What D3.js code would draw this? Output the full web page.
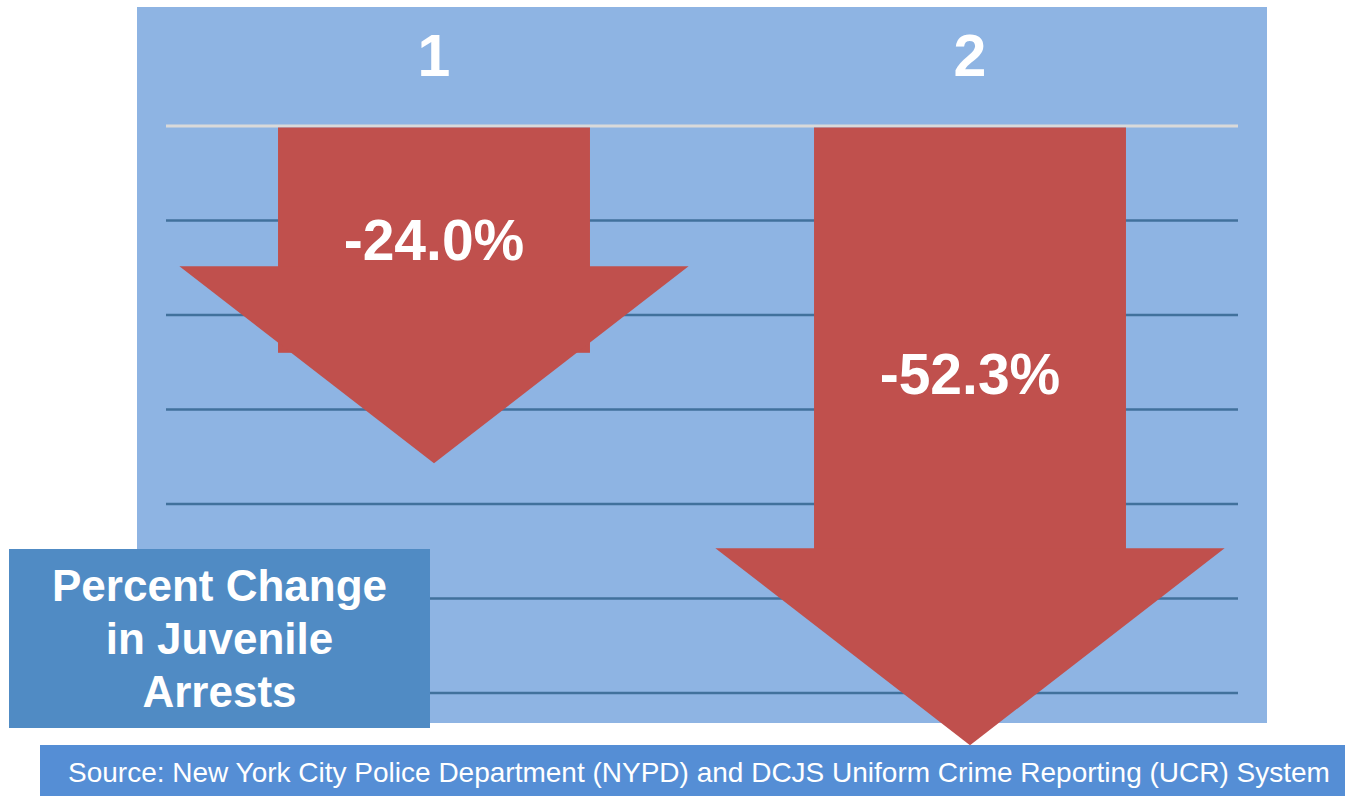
<!DOCTYPE html>
<html>
<head>
<meta charset="utf-8">
<script src="https://cdn.jsdelivr.net/npm/d3@7"></script>
<style>
  html, body { margin: 0; padding: 0; background: #fff; }
  svg { display: block; font-family: "Liberation Sans", Arial, sans-serif; }
</style>
</head>
<body>
<script>
const categories = ["1", "2"];
const values = [-24.0, -52.3];
const gridTicks = [0, -10, -20, -30, -40, -50, -60];
const titleLines = ["Percent Change", "in Juvenile", "Arrests"];
const sourceText = "Source: New York City Police Department (NYPD) and DCJS Uniform Crime Reporting (UCR) System";

const W = 1345, H = 796;
const svg = d3.select("body").append("svg")
  .attr("width", W).attr("height", H);

// chart background
svg.append("rect")
  .attr("x", 137).attr("y", 7)
  .attr("width", 1130).attr("height", 716)
  .attr("fill", "#8eb4e3");

const x = d3.scaleBand()
  .domain(categories)
  .range([166, 1238]);

const y = d3.scaleLinear()
  .domain([0, -60])
  .range([126, 693]);

// where the arrow heads point to
const tipY = d3.scaleLinear()
  .domain([0, -60])
  .range([224, 822]);

// grid lines
svg.selectAll("line.grid")
  .data(gridTicks)
  .join("line")
  .attr("class", "grid")
  .attr("x1", 166)
  .attr("x2", 1238)
  .attr("y1", d => y(d))
  .attr("y2", d => y(d))
  .attr("stroke", d => d === 0 ? "#d9d9d9" : "#41719c")
  .attr("stroke-width", d => d === 0 ? 3 : 2.5);

const shaftW = x.bandwidth() * 0.582;
const headW = x.bandwidth() * 0.95;
const headH = 197;

const arrows = svg.selectAll("g.arrow")
  .data(values)
  .join("g")
  .attr("class", "arrow");

// shafts
arrows.append("rect")
  .attr("x", (d, i) => x(categories[i]) + x.bandwidth() / 2 - shaftW / 2)
  .attr("y", y(0) + 1.5)
  .attr("width", shaftW)
  .attr("height", d => y(d) - y(0) - 1.5)
  .attr("fill", "#c0504d");

// heads
arrows.append("path")
  .attr("d", (d, i) => {
    const cx = x(categories[i]) + x.bandwidth() / 2;
    const tip = tipY(d);
    return "M" + (cx - headW / 2) + "," + (tip - headH) +
      "L" + (cx + headW / 2) + "," + (tip - headH) +
      "L" + cx + "," + tip + "Z";
  })
  .attr("fill", "#c0504d");

// value labels
arrows.append("text")
  .attr("x", (d, i) => x(categories[i]) + x.bandwidth() / 2)
  .attr("y", d => y(d / 2))
  .attr("dy", "0.36em")
  .attr("text-anchor", "middle")
  .attr("fill", "#fff")
  .attr("font-weight", "bold")
  .attr("font-size", 57)
  .text(d => d.toFixed(1) + "%");

// category labels
svg.selectAll("text.cat")
  .data(categories)
  .join("text")
  .attr("class", "cat")
  .attr("x", d => x(d) + x.bandwidth() / 2)
  .attr("y", 76)
  .attr("text-anchor", "middle")
  .attr("fill", "#fff")
  .attr("font-weight", "bold")
  .attr("font-size", 59)
  .text(d => d);

// title box
svg.append("rect")
  .attr("x", 9).attr("y", 549)
  .attr("width", 421).attr("height", 179)
  .attr("fill", "#508bc4");

svg.selectAll("text.title")
  .data(titleLines)
  .join("text")
  .attr("class", "title")
  .attr("x", 219.5)
  .attr("y", (d, i) => 601 + i * 53)
  .attr("text-anchor", "middle")
  .attr("fill", "#fff")
  .attr("font-weight", "bold")
  .attr("font-size", 44)
  .text(d => d);

// source bar
svg.append("rect")
  .attr("x", 40).attr("y", 745)
  .attr("width", 1305).attr("height", 51)
  .attr("fill", "#558ed5");

svg.append("text")
  .attr("x", 68)
  .attr("y", 782)
  .attr("fill", "#fff")
  .attr("font-size", 28)
  .text(sourceText);
</script>
</body>
</html>
